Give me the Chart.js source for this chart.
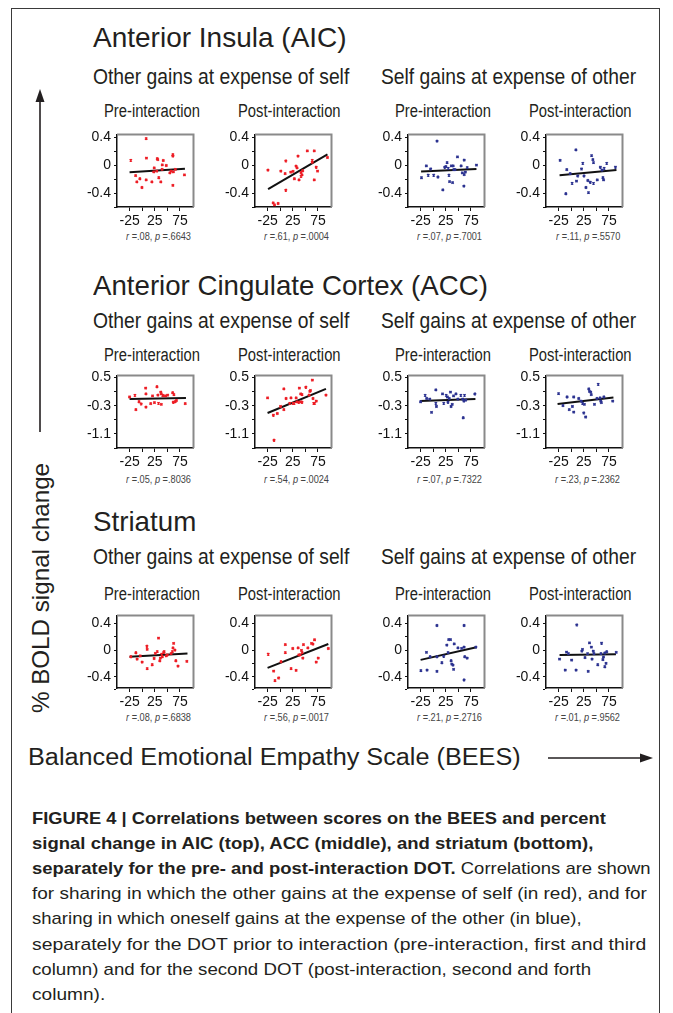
<!DOCTYPE html>
<html>
<head>
<meta charset="utf-8">
<script src="https://cdn.jsdelivr.net/npm/chart.js@4.4.0/dist/chart.umd.min.js"></script>
<style>
html, body { margin: 0; padding: 0; background: #fff; }
body { width: 673px; height: 1013px; position: relative; overflow: hidden;
       font-family: 'Liberation Sans', Arial, sans-serif; color: #231f20; }
.frame { position: absolute; left: 11px; top: 8px; width: 647px; height: 1100px; border: 1.5px solid #3a3a3a; }
.txt { position: absolute; white-space: nowrap; line-height: 1; transform-origin: 0 50%; }
.plot { position: absolute; }
svg { position: absolute; left: 0; top: 0; }
</style>
</head>
<body>
<div class="frame"></div>
<svg width="673" height="1013">
  <line x1="40" y1="432" x2="40" y2="100" stroke="#231f20" stroke-width="1.6"/>
  <polygon points="40,89 35.5,102 44.5,102" fill="#231f20"/>
  <line x1="548" y1="758" x2="642" y2="758" stroke="#231f20" stroke-width="1.6"/>
  <polygon points="653,758 640,753.5 640,762.5" fill="#231f20"/>
</svg>
<script>
// ==========================================
// DATA
// ==========================================

// tick values
const xTicks = [-25, 0, 25, 50, 75];
const xTickLabels = [-25, 25, 75];
const yTicksSmall = [0.4, 0.2, 0, -0.2, -0.4, -0.6];
const yLabelsSmall = [0.4, 0, -0.4];
const yTicksAcc = [0.5, 0.1, -0.3, -0.7, -1.1, -1.5];
const yLabelsAcc = [0.5, -0.3, -1.1];

// Anterior Insula (AIC)
const aicOtherPre = [[-22.6,0.07],[8,0.38],[8.5,0.10],[-13,-0.15],[-10.6,-0.24],[-4.6,-0.195],[-0.4,-0.32],[8,-0.21],[19.3,-0.24],[23,-0.095],[24,-0.04],[30,0.095],[31,0.08],[29,-0.086],[33,-0.18],[37,-0.24],[39.7,-0.06],[42,0.067],[40,0.005],[48,-0.005],[55,-0.11],[57.6,-0.086],[61,0.15],[61,0.13],[61,-0.29],[62,-0.095],[66,-0.06],[84,-0.14]];
const aicOtherPreFit = [[-25,-0.1],[85,-0.05]];
const aicOtherPost = [[-24.3,-0.07],[-13.8,-0.54],[-11.2,-0.57],[-4,-0.55],[1.3,-0.086],[9.9,-0.12],[11.2,0.06],[11.2,-0.36],[21,-0.10],[25.7,-0.09],[28.3,-0.195],[31.6,-0.014],[33.6,-0.04],[35.5,0.13],[37.5,-0.21],[41.4,-0.105],[41.4,-0.16],[43.4,-0.14],[44.7,-0.08],[54,0.205],[63.8,0.04],[63.8,0.07],[67.8,0.205],[67.8,-0.21],[71.7,-0.03],[74.3,-0.086],[94,0.11]];
const aicOtherPostFit = [[-24,-0.345],[94,0.155]];
const aicSelfPre = [[-23.2,-0.18],[-13.5,-0.01],[-9.8,-0.145],[-5,-0.055],[1,-0.145],[7.7,0.345],[9.5,-0.17],[19.2,-0.355],[23,-0.03],[25.3,-0.02],[27.7,0.036],[30,-0.045],[31.4,-0.145],[32.6,-0.236],[36.2,-0.01],[38.6,-0.25],[39.8,-0.01],[41,-0.064],[43.5,-0.064],[48.3,0.118],[55.6,-0.01],[58,-0.11],[61.7,0.073],[61,-0.3],[61.7,-0.136],[64,-0.1],[67.7,-0.036],[86,0.0]];
const aicSelfPreFit = [[-24,-0.09],[86,-0.055]];
const aicSelfPost = [[-21.9,0.068],[-10.6,-0.41],[-8.75,-0.064],[-1.9,-0.12],[1.9,-0.26],[9.4,0.22],[10.6,-0.23],[13.1,-0.155],[20.6,-0.055],[23.1,0.027],[25.6,-0.155],[29.4,-0.32],[33.1,-0.22],[34.4,-0.395],[38.1,-0.245],[40.6,0.136],[43.1,0.08],[44.4,0.036],[44.4,-0.26],[51.9,-0.21],[58.1,-0.03],[61.3,-0.07],[63.1,-0.18],[64.4,-0.21],[65.6,-0.045],[70.6,0.027],[88,-0.03]];
const aicSelfPostFit = [[-23,-0.145],[90,-0.07]];
const aicR = ['.08', '.61', '.07', '.11'];
const aicP = ['.6643', '.0004', '.7001', '.5570'];

// Anterior Cingulate Cortex (ACC)
const accOtherPre = [[-25,-0.05],[-14.4,-0.003],[-12.5,-0.41],[-6.25,-0.185],[-1.9,-0.25],[6.9,0.2],[7.5,0.04],[7.5,-0.34],[16.9,-0.24],[20.6,-0.02],[24.4,-0.21],[29.4,0.24],[31.25,0.0],[32.5,-0.23],[36.9,0.09],[38.1,0.04],[38.1,-0.26],[40.6,-0.003],[42.5,-0.02],[46.9,-0.02],[50.6,0.0],[60.6,0.07],[61.9,-0.2],[63.1,0.015],[65.6,-0.185],[68.1,-0.15],[85.6,-0.24]];
const accOtherPreFit = [[-25,-0.11],[87,-0.08]];
const accOtherPost = [[-25,-0.076],[-13.4,-0.57],[-12.1,-1.28],[-5.6,-0.52],[0.8,-0.32],[7.3,0.18],[7.3,-0.41],[11.8,-0.094],[18.9,-0.23],[21.5,-0.076],[25.3,-0.23],[27.9,-0.23],[31.8,-0.076],[33.1,-0.19],[37,-0.2],[38.2,0.2],[40.8,0.04],[40.8,-0.19],[43.4,0.015],[43.4,-0.2],[51.1,0.226],[57.6,0.0],[58.9,0.107],[60.2,0.134],[64,0.43],[65.3,-0.094],[66.6,-0.23],[68.5,-0.23],[71.8,-0.17],[91,0.0]];
const accOtherPostFit = [[-25,-0.505],[91,0.18]];
const accSelfPre = [[-25,-0.186],[-15.9,-0.003],[-12.9,-0.094],[-6.8,-0.11],[-3.2,-0.49],[5.3,0.15],[5.3,-0.23],[6.5,-0.32],[18.6,0.04],[21,-0.23],[25.9,-0.003],[28.3,-0.05],[29.5,-0.2],[32,-0.094],[34.4,0.09],[35.6,-0.32],[38,-0.26],[40.5,-0.02],[45.3,0.04],[49,-0.11],[55,-0.003],[58.6,-0.11],[59.8,-0.64],[61,-0.17],[62.3,-0.003],[64.7,-0.14],[82.9,0.034]];
const accSelfPreFit = [[-26,-0.167],[84,-0.11]];
const accSelfPost = [[-25,0.043],[-16.3,-0.295],[-8.1,-0.05],[-3.75,-0.41],[2.5,-0.32],[5,-0.48],[5,-0.05],[15,-0.094],[20,-0.167],[22.5,-0.23],[25,-0.505],[26.3,-0.26],[28.75,-0.62],[35,0.18],[36.3,0.107],[38.75,0.09],[40,0.016],[46.3,-0.26],[51.3,-0.094],[53.75,0.31],[57.5,-0.076],[58.75,-0.167],[60,-0.21],[65,-0.05],[82.5,-0.167]];
const accSelfPostFit = [[-27,-0.25],[84,-0.067]];
const accR = ['.05', '.54', '.07', '.23'];
const accP = ['.8036', '.0024', '.7322', '.2362'];

// Striatum
const strOtherPre = [[-22.5,-0.10],[-12.5,-0.04],[-10,-0.136],[-3.75,-0.087],[0,-0.18],[9.4,0.058],[10,0.01],[10,-0.28],[20,-0.22],[23.75,-0.126],[26.25,-0.05],[30,-0.024],[32.5,0.18],[35,-0.16],[36.25,-0.12],[38.75,-0.063],[40,-0.10],[42.5,-0.039],[43.75,-0.024],[48,-0.087],[50,-0.073],[57.5,-0.053],[60,-0.024],[61.25,0.034],[62.5,0.10],[65,0.0],[66.9,-0.16],[71.25,-0.24],[88.75,-0.17]];
const strOtherPreFit = [[-25,-0.10],[90,-0.053]];
const strOtherPost = [[-23.7,-0.063],[-13,-0.316],[-10.3,-0.46],[-3,-0.42],[1.7,-0.175],[10.3,0.083],[10.3,-0.039],[21.7,-0.28],[25,0.024],[31.7,-0.306],[35.7,0.034],[37,-0.073],[39.7,-0.073],[42.3,-0.005],[43.7,-0.039],[45,-0.12],[46.3,0.083],[55,0.034],[62.3,0.10],[65,0.09],[68.3,0.155],[71.7,-0.18],[75.7,-0.12],[95.7,0.024]];
const strOtherPostFit = [[-25,-0.267],[95.7,0.092]];
const strSelfPre = [[-24.4,-0.31],[-13.3,-0.034],[-12.1,-0.30],[-6,-0.10],[7.5,0.37],[7.5,-0.10],[7.5,-0.32],[17.3,-0.19],[21,-0.093],[27.1,0.074],[29.6,-0.039],[30.8,0.157],[34.5,0.157],[35.7,-0.16],[37,-0.21],[39.4,-0.225],[40.6,-0.29],[41.9,0.093],[49.2,0.034],[56.6,0.025],[61.5,0.37],[61.5,0.044],[62.7,-0.10],[67.6,-0.12],[61.5,-0.45],[84.8,0.044]];
const strSelfPreFit = [[-25,-0.147],[86,0.044]];
const strSelfPost = [[-23.1,-0.137],[-11.7,-0.30],[-9.2,-0.03],[-5.4,-0.054],[0.9,-0.15],[9.8,-0.30],[11.1,0.377],[21.2,-0.015],[22.5,0.01],[27.5,-0.113],[32.6,-0.054],[33.9,-0.32],[36.4,0.108],[40.2,0.044],[41.5,-0.137],[44,-0.015],[45.3,-0.054],[52.8,-0.22],[59.2,-0.054],[60.4,0.103],[63,-0.142],[64.2,-0.103],[66.8,-0.25],[66.8,-0.044],[69.3,-0.20],[70.6,-0.025],[89.6,-0.034]];
const strSelfPostFit = [[-23,-0.074],[89,-0.064]];
const strR = ['.08', '.56', '.21', '.01'];
const strP = ['.6838', '.0017', '.2716', '.9562'];

// ==========================================
// LAYOUT
// ==========================================

const RED = '#ed1c24';
const BLUE = '#2b3290';
const colLeft = [117, 255, 408, 546];
const rowTop = [132, 373, 613];
const BOX_W = 79, BOX_H = 75;
const AXIS_W = 40, AXIS_H = 24, PAD_T = 3, PAD_R = 3;

// Text helper: scales the text horizontally to a target width
function fitText(html, x, yc, w, size, style) {
    const el = document.createElement('div');
    el.className = 'txt';
    el.innerHTML = html;
    el.style.fontSize = size + 'px';
    el.style.left = x + 'px';
    el.style.top = (yc - size / 2) + 'px';
    if (style) Object.assign(el.style, style);
    document.body.appendChild(el);
    const nat = el.offsetWidth;
    if (w) el.style.transform = `scaleX(${w / nat})`;
    return el;
}

// Centered text with a fixed horizontal squeeze
function centerText(html, cx, yc, size, squeeze, style) {
    const el = fitText(html, 0, yc, 0, size, style);
    const w = el.offsetWidth * squeeze;
    el.style.left = (cx - w / 2) + 'px';
    el.style.transform = `scaleX(${squeeze})`;
    return el;
}

// gray top/right edges of each plot frame
const boxPlugin = {
    id: 'boxEdges',
    afterDraw(chart) {
        const { ctx, chartArea: a } = chart;
        ctx.save();
        ctx.strokeStyle = '#8a8a8a';
        ctx.lineWidth = 2;
        ctx.beginPath();
        ctx.moveTo(a.left, a.top);
        ctx.lineTo(a.right, a.top);
        ctx.lineTo(a.right, a.bottom);
        ctx.stroke();
        ctx.restore();
    }
};

// no extra label padding, so the plot box lands where we put it
function noPad(s) {
    s.paddingTop = 0; s.paddingBottom = 0;
    s.paddingLeft = 0; s.paddingRight = 0;
}

function makePlot(row, col, pts, fit, color, yTicks, yLabels, yMin, yMax) {
    const wrap = document.createElement('div');
    wrap.className = 'plot';
    wrap.style.left = (colLeft[col] - AXIS_W) + 'px';
    wrap.style.top = (rowTop[row] - PAD_T) + 'px';
    wrap.style.width = (AXIS_W + BOX_W + PAD_R) + 'px';
    wrap.style.height = (PAD_T + BOX_H + AXIS_H) + 'px';
    const canvas = document.createElement('canvas');
    wrap.appendChild(canvas);
    document.body.appendChild(wrap);

    const tickFont = { family: "'Liberation Sans', Arial, sans-serif", size: 14 };

    new Chart(canvas, {
        type: 'scatter',
        data: {
            datasets: [{
                data: pts.map(p => ({ x: p[0], y: p[1] })),
                backgroundColor: color,
                borderColor: color,
                pointStyle: 'crossRot',
                pointRadius: 1.6,
                borderWidth: 1.5
            }, {
                type: 'line',
                data: fit.map(p => ({ x: p[0], y: p[1] })),
                borderColor: '#111',
                borderWidth: 2,
                pointRadius: 0,
                showLine: true,
                fill: false
            }]
        },
        options: {
            responsive: true,
            maintainAspectRatio: false,
            animation: false,
            layout: { padding: { top: PAD_T, right: PAD_R, left: 0, bottom: 0 } },
            plugins: { legend: { display: false }, tooltip: { enabled: false } },
            scales: {
                x: {
                    type: 'linear',
                    min: -50, max: 102,
                    afterBuildTicks: s => { s.ticks = xTicks.map(v => ({ value: v })); },
                    afterFit: s => { s.height = AXIS_H; noPad(s); },
                    ticks: {
                        autoSkip: false, maxRotation: 0, padding: 2,
                        color: '#111', font: tickFont,
                        callback: v => xTickLabels.includes(v) ? String(v) : ''
                    },
                    grid: { drawOnChartArea: false, drawTicks: true, tickLength: 4, color: '#111' },
                    border: { display: true, color: '#111', width: 1.5 }
                },
                y: {
                    type: 'linear',
                    min: yMin, max: yMax,
                    afterBuildTicks: s => { s.ticks = yTicks.map(v => ({ value: v })); },
                    afterFit: s => { s.width = AXIS_W; noPad(s); },
                    ticks: {
                        autoSkip: false, padding: 3,
                        color: '#111', font: tickFont,
                        callback: v => yLabels.includes(v) ? String(v) : ''
                    },
                    grid: { drawOnChartArea: false, drawTicks: true, tickLength: 3, color: '#111' },
                    border: { display: true, color: '#111', width: 1.5 }
                }
            }
        },
        plugins: [boxPlugin]
    });
}

// ==========================================
// BUILD
// ==========================================

const rows = [
    { title: 'Anterior Insula (AIC)', titleW: 254, titleY: 38, subY: 77, panelY: 111, statY: 237,
      sets: [aicOtherPre, aicOtherPost, aicSelfPre, aicSelfPost],
      fits: [aicOtherPreFit, aicOtherPostFit, aicSelfPreFit, aicSelfPostFit],
      r: aicR, p: aicP, yTicks: yTicksSmall, yLabels: yLabelsSmall, yMin: -0.6, yMax: 0.44 },
    { title: 'Anterior Cingulate Cortex (ACC)', titleW: 395, titleY: 286, subY: 321, panelY: 355, statY: 480,
      sets: [accOtherPre, accOtherPost, accSelfPre, accSelfPost],
      fits: [accOtherPreFit, accOtherPostFit, accSelfPreFit, accSelfPostFit],
      r: accR, p: accP, yTicks: yTicksAcc, yLabels: yLabelsAcc, yMin: -1.5, yMax: 0.56 },
    { title: 'Striatum', titleW: 103, titleY: 522, subY: 557, panelY: 594, statY: 718,
      sets: [strOtherPre, strOtherPost, strSelfPre, strSelfPost],
      fits: [strOtherPreFit, strOtherPostFit, strSelfPreFit, strSelfPostFit],
      r: strR, p: strP, yTicks: yTicksSmall, yLabels: yLabelsSmall, yMin: -0.57, yMax: 0.52 }
];
const panelNames = ['Pre-interaction', 'Post-interaction', 'Pre-interaction', 'Post-interaction'];

rows.forEach((row, ri) => {
    fitText(row.title, 93, row.titleY, row.titleW, 28);
    fitText('Other gains at expense of self', 93, row.subY, 256, 22);
    fitText('Self gains at expense of other', 381, row.subY, 255, 22);
    for (let c = 0; c < 4; c++) {
        const cx = colLeft[c] + BOX_W / 2;
        centerText(panelNames[c], cx - 5, row.panelY, 18, 0.82);
        centerText(`<i>r</i> =${row.r[c]}, <i>p</i> =${row.p[c]}`, cx + 2, row.statY, 11.5, 0.8, { color: '#444' });
        makePlot(ri, c, row.sets[c], row.fits[c], c < 2 ? RED : BLUE,
                 row.yTicks, row.yLabels, row.yMin, row.yMax);
    }
});

// axis titles
const yTitle = fitText('% BOLD signal change', 0, 0, 0, 24);
const yNat = yTitle.offsetWidth;
yTitle.style.left = (41 - yNat / 2) + 'px';
yTitle.style.top = (588 - 12) + 'px';
yTitle.style.transformOrigin = '50% 50%';
yTitle.style.transform = `rotate(-90deg) scaleX(${250 / yNat})`;

fitText('Balanced Emotional Empathy Scale (BEES)', 28, 757, 493, 23);

// caption
const capX = 32, capY0 = 818, capStep = 25.2;
const captionLines = [
    ['<b>FIGURE 4 | Correlations between scores on the BEES and percent</b>', 574],
    ['<b>signal change in AIC (top), ACC (middle), and striatum (bottom),</b>', 561],
    ['<b>separately for the pre- and post-interaction DOT.</b> Correlations are shown', 619],
    ['for sharing in which the other gains at the expense of self (in red), and for', 615],
    ['sharing in which oneself gains at the expense of the other (in blue),', 550],
    ['separately for the DOT prior to interaction (pre-interaction, first and third', 614],
    ['column) and for the second DOT (post-interaction, second and forth', 559],
    ['column).', 73]
];
captionLines.forEach((ln, i) => {
    fitText(ln[0], capX, capY0 + i * capStep, ln[1], 17, { color: '#231f20' });
});
</script>
</body>
</html>
